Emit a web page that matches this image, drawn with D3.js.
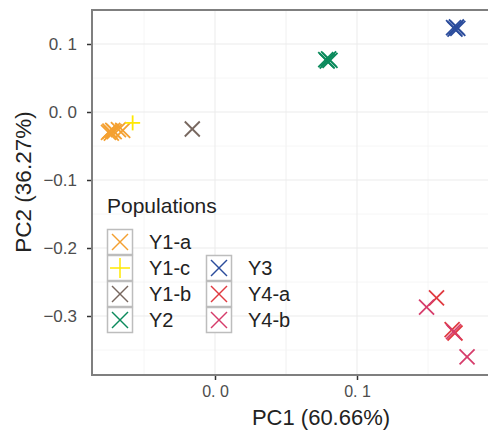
<!DOCTYPE html>
<html>
<head>
<meta charset="utf-8">
<script src="https://cdn.jsdelivr.net/npm/d3@7"></script>
<style>
  body { margin: 0; background: #fff; }
  svg text { font-family: "Liberation Sans", Arial, sans-serif; }
</style>
</head>
<body>
<div id="chart"></div>
<script>
// populations and their scores
const populations = ["Y1-a", "Y1-c", "Y1-b", "Y2", "Y3", "Y4-a", "Y4-b"];
const popColors = ["#f4a031", "#ffe800", "#77675f", "#0b8a5c", "#2b4c9c", "#e03a40", "#d63c6b"];
const popShapes = ["x", "plus", "x", "x", "x", "x", "x"];

const pc1 = {
  "Y1-a": [-0.075, -0.074, -0.073, -0.072, -0.071, -0.068, -0.065],
  "Y1-c": [-0.058],
  "Y1-b": [-0.016],
  "Y2":   [0.078, 0.079, 0.080, 0.081],
  "Y3":   [0.168, 0.169, 0.170, 0.171],
  "Y4-a": [0.156, 0.167, 0.169],
  "Y4-b": [0.149, 0.168, 0.1775]
};
const pc2 = {
  "Y1-a": [-0.030, -0.028, -0.031, -0.027, -0.029, -0.026, -0.027],
  "Y1-c": [-0.016],
  "Y1-b": [-0.025],
  "Y2":   [0.077, 0.075, 0.078, 0.076],
  "Y3":   [0.124, 0.122, 0.125, 0.123],
  "Y4-a": [-0.2735, -0.320, -0.325],
  "Y4-b": [-0.287, -0.323, -0.360]
};

const xTicks = [0.0, 0.1];
const xTickLabels = ["0. 0", "0. 1"];
const yTicks = [0.1, 0.0, -0.1, -0.2, -0.3];
const yTickLabels = ["0. 1", "0. 0", "\u22120.1", "\u22120.2", "\u22120.3"];

const width = 488, height = 435;
const panel = { left: 92, top: 10, right: 492, bottom: 375 };

const svg = d3.select("#chart").append("svg")
  .attr("width", width).attr("height", height);

const x = d3.scaleLinear().domain([0, 0.1]).range([215, 357]);
const y = d3.scaleLinear().domain([0, 0.1]).range([112, 44]);

// gridlines
const grid = svg.append("g");
const minorX = xTicks.map(d => d - 0.05).concat(xTicks.map(d => d + 0.05));
const minorY = yTicks.map(d => d + 0.05).concat([-0.35]);
grid.selectAll("line.mx").data(minorX).join("line")
  .attr("x1", d => x(d)).attr("x2", d => x(d))
  .attr("y1", panel.top).attr("y2", panel.bottom)
  .attr("stroke", "#f4f4f4").attr("stroke-width", 0.8);
grid.selectAll("line.my").data(minorY).join("line")
  .attr("y1", d => y(d)).attr("y2", d => y(d))
  .attr("x1", panel.left).attr("x2", panel.right)
  .attr("stroke", "#f4f4f4").attr("stroke-width", 0.8);
grid.selectAll("line.gx").data(xTicks).join("line")
  .attr("x1", d => x(d)).attr("x2", d => x(d))
  .attr("y1", panel.top).attr("y2", panel.bottom)
  .attr("stroke", "#ebebeb").attr("stroke-width", 1);
grid.selectAll("line.gy").data(yTicks).join("line")
  .attr("y1", d => y(d)).attr("y2", d => y(d))
  .attr("x1", panel.left).attr("x2", panel.right)
  .attr("stroke", "#ebebeb").attr("stroke-width", 1);

// points
function drawShape(g, shape, r, color, sw) {
  if (shape === "plus") {
    g.append("line").attr("x1", -r).attr("x2", r).attr("y1", 0).attr("y2", 0);
    g.append("line").attr("x1", 0).attr("x2", 0).attr("y1", -r).attr("y2", r);
  } else {
    g.append("line").attr("x1", -r).attr("x2", r).attr("y1", -r).attr("y2", r);
    g.append("line").attr("x1", -r).attr("x2", r).attr("y1", r).attr("y2", -r);
  }
  g.selectAll("line").attr("stroke", color).attr("stroke-width", sw);
}

const pts = svg.append("g");
populations.forEach((p, i) => {
  pc1[p].forEach((v, j) => {
    const g = pts.append("g")
      .attr("transform", `translate(${x(v)},${y(pc2[p][j])})`);
    drawShape(g, popShapes[i], 7.5, popColors[i], 1.8);
  });
});

// panel border
svg.append("rect")
  .attr("x", panel.left).attr("y", panel.top)
  .attr("width", panel.right - panel.left).attr("height", panel.bottom - panel.top)
  .attr("fill", "none").attr("stroke", "#7f7f7f").attr("stroke-width", 2);

// axes
const xAxis = svg.append("g").attr("transform", `translate(0,${panel.bottom + 1})`)
  .call(d3.axisBottom(x).tickValues(xTicks).tickSize(4).tickPadding(6)
    .tickFormat((d, i) => xTickLabels[i]));
const yAxis = svg.append("g").attr("transform", `translate(${panel.left - 1},0)`)
  .call(d3.axisLeft(y).tickValues(yTicks).tickSize(4).tickPadding(10)
    .tickFormat((d, i) => yTickLabels[i]));
[xAxis, yAxis].forEach(a => {
  a.select(".domain").remove();
  a.selectAll(".tick line").attr("stroke", "#333").attr("stroke-width", 1.5);
  a.selectAll(".tick text").attr("fill", "#4d4d4d")
    .attr("font-family", "Liberation Sans, Arial, sans-serif").attr("font-size", 17);
});
xAxis.selectAll(".tick text").attr("font-size", 16);

// axis titles
svg.append("text").attr("x", 321).attr("y", 425).attr("text-anchor", "middle")
  .attr("fill", "#222").attr("font-size", 22).text("PC1 (60.66%)");
svg.append("text").attr("transform", "translate(31,182) rotate(-90)")
  .attr("text-anchor", "middle").attr("fill", "#222").attr("font-size", 22.5)
  .text("PC2 (36.27%)");

// legend
const legend = svg.append("g");
legend.append("text").attr("x", 107).attr("y", 213)
  .attr("fill", "#222").attr("font-size", 21).text("Populations");
const key = 26;
const legendPos = [[107, 229], [107, 255], [107, 281], [107, 307], [206, 255], [206, 281], [206, 307]];
populations.forEach((p, i) => {
  const [lx, ly] = legendPos[i];
  legend.append("rect").attr("x", lx + 0.5).attr("y", ly + 0.5)
    .attr("width", key - 1).attr("height", key - 1)
    .attr("fill", "#fff").attr("stroke", "#bdbdbd").attr("stroke-width", 1.5);
  const g = legend.append("g").attr("transform", `translate(${lx + key / 2},${ly + key / 2})`);
  drawShape(g, popShapes[i], popShapes[i] === "plus" ? 10 : 8, popColors[i], 1.5);
  legend.append("text").attr("x", lx + 42).attr("y", ly + key / 2 + 7)
    .attr("fill", "#222").attr("font-size", 20).text(p);
});
</script>
</body>
</html>
